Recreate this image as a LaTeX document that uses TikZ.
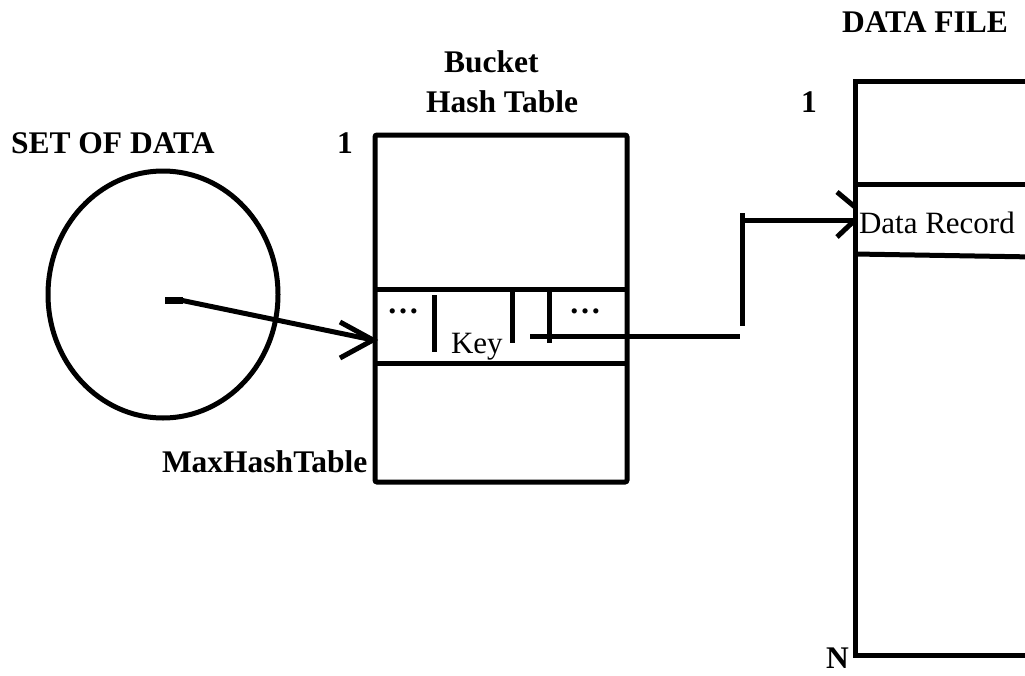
\documentclass[tikz,border=0pt]{standalone}
\usepackage{fontspec}
\setmainfont{Liberation Serif}
\usetikzlibrary{shapes.geometric}
\begin{document}
\begin{tikzpicture}[x=1pt,y=-1pt,line width=5pt,
  lbl/.style={inner sep=0pt,outer sep=0pt,anchor=base west,font=\fontsize{31.5}{36}\selectfont\bfseries},
  txt/.style={inner sep=0pt,outer sep=0pt,anchor=base west,font=\fontsize{31}{36}\selectfont},
  dots/.style={inner sep=0pt,outer sep=0pt,anchor=base,font=\fontsize{32}{36}\selectfont\bfseries},
  boxshape/.style={draw,rectangle,inner sep=0pt,outer sep=0pt,rounded corners=2pt},
  setshape/.style={draw,ellipse,inner sep=0pt,outer sep=0pt}]
\useasboundingbox (0,0) rectangle (1025,675);
\clip (0,0) rectangle (1025,675);

% set of data
\node[setshape,minimum width=230pt,minimum height=247pt] (set) at (163,294.5) {};
\node[lbl] (setlbl) at (11,153) {SET OF DATA};
\coordinate (tickA) at (165,300);
\coordinate (tickB) at (183,300);
\draw[line width=7pt] (tickA) -- (tickB);

% hash table
\node[boxshape,minimum width=252pt,minimum height=347pt] (ht) at (501,308.5) {};
\node[lbl] (one1) at (337,153) {1};
\node[lbl] (bucket) at (444,72) {Bucket};
\node[lbl] (hashtable) at (426,112) {Hash Table};
\node[lbl] (maxh) at (162,472) {MaxHashTable};
\coordinate (r1a) at (375,289); \coordinate (r1b) at (627,289);
\coordinate (r2a) at (375,363); \coordinate (r2b) at (627,363);
\draw (r1a) -- (r1b);
\draw (r2a) -- (r2b);
\coordinate (b1a) at (434,295); \coordinate (b1b) at (434,352);
\coordinate (b2a) at (512,290); \coordinate (b2b) at (512,343);
\coordinate (b3a) at (549,290); \coordinate (b3b) at (549,343);
\draw (b1a) -- (b1b);
\draw (b2a) -- (b2b);
\draw (b3a) -- (b3b);
\node[dots] (dl) at (403,313) {…};
\node[dots] (dr) at (585,313) {…};
\node[txt] (key) at (451,353) {Key};

% arrow set -> hash
\coordinate (a1s) at (180,300);
\coordinate (a1t) at (373,340);
\coordinate (h1u) at (340,322);
\coordinate (h1l) at (340,358);
\draw (a1s) -- (a1t);
\draw (h1u) -- (a1t) -- (h1l);

% key pointer
\coordinate (p1) at (530,336);
\coordinate (p2) at (740,336);
\coordinate (v1) at (742,213);
\coordinate (v2) at (742,326);
\coordinate (h2s) at (742,220);
\coordinate (h2t) at (855,220);
\coordinate (h2u) at (837,192);
\coordinate (h2ue) at (855,207);
\coordinate (h2l) at (837,237);
\draw (p1) -- (p2);
\draw (v1) -- (v2);
\draw (h2s) -- (h2t);
\draw (h2u) -- (h2ue);
\draw (h2l) -- (h2t);

% data file
\coordinate (dTR) at (1035,81);
\coordinate (dTL) at (855,81);
\coordinate (dBL) at (855,655);
\coordinate (dBR) at (1035,655);
\draw[line join=miter] (dTR) -- (dTL) -- (dBL) -- (dBR);
\coordinate (d1a) at (855,184); \coordinate (d1b) at (1035,184);
\coordinate (d2a) at (855,254); \coordinate (d2b) at (1035,257);
\draw (d1a) -- (d1b);
\draw (d2a) -- (d2b);
\node[lbl] (datafile) at (842,32) {DATA FILE};
\node[lbl] (one2) at (801,112) {1};
\node[lbl] (nlbl) at (826,668) {N};
\node[txt] (rec) at (859,233) {Data Record};
\end{tikzpicture}
\end{document}
